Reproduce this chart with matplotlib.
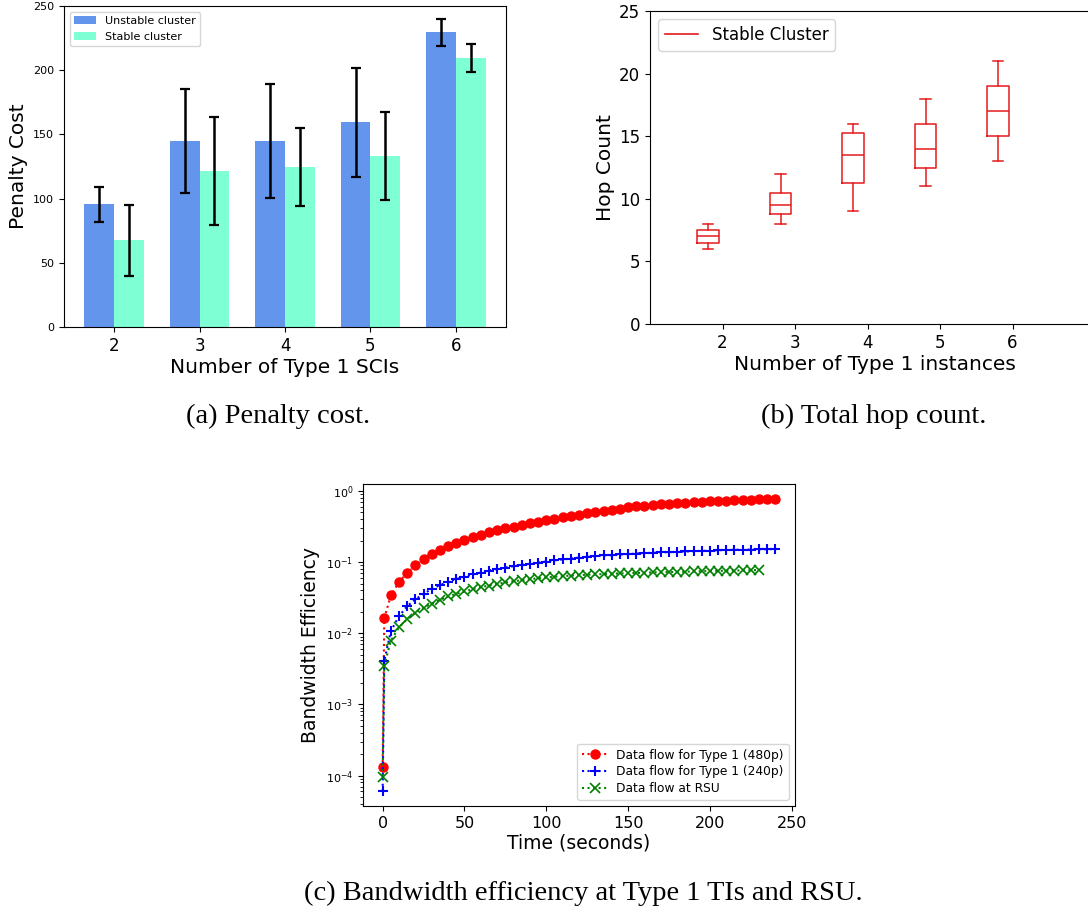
import numpy as np
import matplotlib
matplotlib.use("Agg")
import matplotlib.pyplot as plt
from matplotlib.lines import Line2D

# ---------------- data ----------------
sci_counts = [2, 3, 4, 5, 6]
unstable_cost = [95.5, 145, 145, 159.5, 229.5]
unstable_err = [13.5, 40.5, 44.5, 42.5, 10.7]
stable_cost = [67.5, 121.5, 124.5, 133.5, 209.5]
stable_err = [27.6, 41.7, 30.5, 34.3, 10.6]

hop_instances = [2, 3, 4, 5, 6]
hop_whislo = [6, 8, 9, 11, 13]
hop_q1 = [6.5, 8.75, 11.25, 12.5, 15]
hop_med = [7, 9.5, 13.5, 14, 17]
hop_q3 = [7.5, 10.5, 15.25, 16, 19]
hop_whishi = [8, 12, 16, 18, 21]

time_480 = [0, 1] + list(range(5, 241, 5))
eff_480 = [1.3e-4, 0.0162, 0.034, 0.0525, 0.0706, 0.090, 0.111, 0.131, 0.150,
           0.168, 0.187, 0.205, 0.223, 0.242, 0.261, 0.279, 0.297, 0.315,
           0.335, 0.354, 0.371, 0.392, 0.409, 0.427, 0.446, 0.465, 0.486,
           0.502, 0.519, 0.536, 0.553, 0.597, 0.610, 0.623, 0.637, 0.650,
           0.664, 0.671, 0.686, 0.693, 0.701, 0.716, 0.724, 0.732, 0.740,
           0.748, 0.756, 0.764, 0.773, 0.780]

time_240 = [0, 1] + list(range(5, 241, 5))
eff_240 = [6.0e-5, 4.1e-3, 0.0107, 0.0174, 0.024, 0.030, 0.0358, 0.042,
           0.0474, 0.0528, 0.0576, 0.062, 0.067, 0.0714, 0.0762, 0.0804,
           0.084, 0.0877, 0.0915, 0.0945, 0.0986, 0.102, 0.106, 0.109,
           0.112, 0.116, 0.1185, 0.121, 0.124, 0.125, 0.128, 0.129, 0.132,
           0.134, 0.135, 0.137, 0.138, 0.139, 0.141, 0.142, 0.144, 0.145,
           0.147, 0.148, 0.149, 0.150, 0.150, 0.151, 0.152, 0.152]

time_rsu = [0, 1] + list(range(5, 231, 5))
eff_rsu = [9.7e-5, 3.5e-3, 7.85e-3, 0.0121, 0.0158, 0.0194, 0.0228, 0.0262,
           0.0295, 0.0329, 0.0358, 0.0387, 0.0417, 0.0445, 0.0469, 0.0495,
           0.0517, 0.054, 0.0557, 0.0575, 0.0594, 0.0608, 0.0622, 0.0636,
           0.0647, 0.0657, 0.0664, 0.0672, 0.0679, 0.0686, 0.0694, 0.070,
           0.0705, 0.0709, 0.0717, 0.072, 0.0724, 0.0728, 0.0733, 0.0741,
           0.0745, 0.0749, 0.0753, 0.0757, 0.0761, 0.0766, 0.077, 0.0774]

# ---------------- layout ----------------
W, H = 1088, 918
fig = plt.figure(figsize=(W / 100, H / 100), dpi=100)


def px_axes(x0, y0, x1, y1):
    return fig.add_axes([x0 / W, 1 - y1 / H, (x1 - x0) / W, (y1 - y0) / H])


caption_font = dict(family="Liberation Serif", size=20.5)

# ---------------- (a) penalty cost ----------------
ax1 = px_axes(64, 6, 506, 327)
bw = 0.35
xs = np.array(sci_counts, dtype=float)
ax1.bar(xs - bw / 2, unstable_cost, bw, color="cornflowerblue",
        label="Unstable cluster")
ax1.bar(xs + bw / 2, stable_cost, bw, color="aquamarine",
        label="Stable cluster")
ekw = dict(fmt="none", ecolor="black", elinewidth=1.8, capsize=3.5,
           capthick=1.6)
ax1.errorbar(xs - bw / 2, unstable_cost, yerr=unstable_err, **ekw)
ax1.errorbar(xs + bw / 2, stable_cost, yerr=stable_err, **ekw)
ax1.set_xticks(xs)
ax1.set_xticklabels([str(v) for v in sci_counts])
ax1.set_ylim(0, 250)
ax1.set_yticks(range(0, 251, 50))
ax1.tick_params(axis="x", labelsize=12)
ax1.tick_params(axis="y", labelsize=8)
ax1.set_xlabel("Number of Type 1 SCIs", fontsize=14.5, labelpad=2)
ax1.set_ylabel("Penalty Cost", fontsize=14.5, labelpad=4)
ax1.legend(loc="upper left", fontsize=8)
fig.text(278 / W, 1 - 416 / H, "(a) Penalty cost.", ha="center",
         va="center", **caption_font)

# ---------------- (b) hop count ----------------
ax2 = px_axes(650, 11, 1100, 324)
box_color = "#e41a1c"
stats = []
for i in range(len(hop_instances)):
    stats.append(dict(med=hop_med[i], q1=hop_q1[i], q3=hop_q3[i],
                      whislo=hop_whislo[i], whishi=hop_whishi[i], fliers=[]))
pos = np.arange(1, len(hop_instances) + 1)
ax2.bxp(stats, positions=pos - 0.2, widths=0.3, showfliers=False,
        boxprops=dict(color=box_color, linewidth=1.1),
        whiskerprops=dict(color=box_color, linewidth=1.1),
        capprops=dict(color=box_color, linewidth=1.1),
        medianprops=dict(color=box_color, linewidth=1.1))
ax2.set_xticks(pos)
ax2.set_xticklabels([str(v) for v in hop_instances])
ax2.set_xlim(0, 450 / 72.5)
ax2.set_ylim(0, 25)
ax2.set_yticks(range(0, 26, 5))
ax2.tick_params(labelsize=12)
ax2.set_xlabel("Number of Type 1 instances", fontsize=14.5, labelpad=2)
ax2.set_ylabel("Hop Count", fontsize=14.5, labelpad=3)
ax2.legend(handles=[Line2D([], [], color=box_color, linewidth=1.2)],
           labels=["Stable Cluster"], loc="upper left", fontsize=12)
fig.text(874 / W, 1 - 416 / H, "(b) Total hop count.", ha="center",
         va="center", **caption_font)

# ---------------- (c) bandwidth efficiency ----------------
ax3 = px_axes(363, 484, 795, 806)
ax3.plot(time_480, eff_480, linestyle=":", color="red", marker="o",
         markersize=6.5, linewidth=1.5, label="Data flow for Type 1 (480p)")
ax3.plot(time_240, eff_240, linestyle=":", color="blue", marker="+",
         markersize=7, markeredgewidth=1.5, linewidth=1.5,
         label="Data flow for Type 1 (240p)")
ax3.plot(time_rsu, eff_rsu, linestyle=":", color="green", marker="x",
         markersize=6.5, markeredgewidth=1.2, linewidth=1.5,
         label="Data flow at RSU")
ax3.set_yscale("log")
ax3.set_xticks(range(0, 251, 50))
ax3.tick_params(axis="x", labelsize=11.5)
ax3.tick_params(axis="y", labelsize=8)
ax3.set_xlabel("Time (seconds)", fontsize=13.5, labelpad=2)
ax3.set_ylabel("Bandwidth Efficiency", fontsize=13.5, labelpad=4)
ax3.legend(loc="lower right", fontsize=8.8, labelspacing=0.3)
fig.text(583 / W, 1 - 893 / H,
         "(c) Bandwidth efficiency at Type 1 TIs and RSU.", ha="center",
         va="center", **caption_font)

fig.savefig("out.png", dpi=100)
